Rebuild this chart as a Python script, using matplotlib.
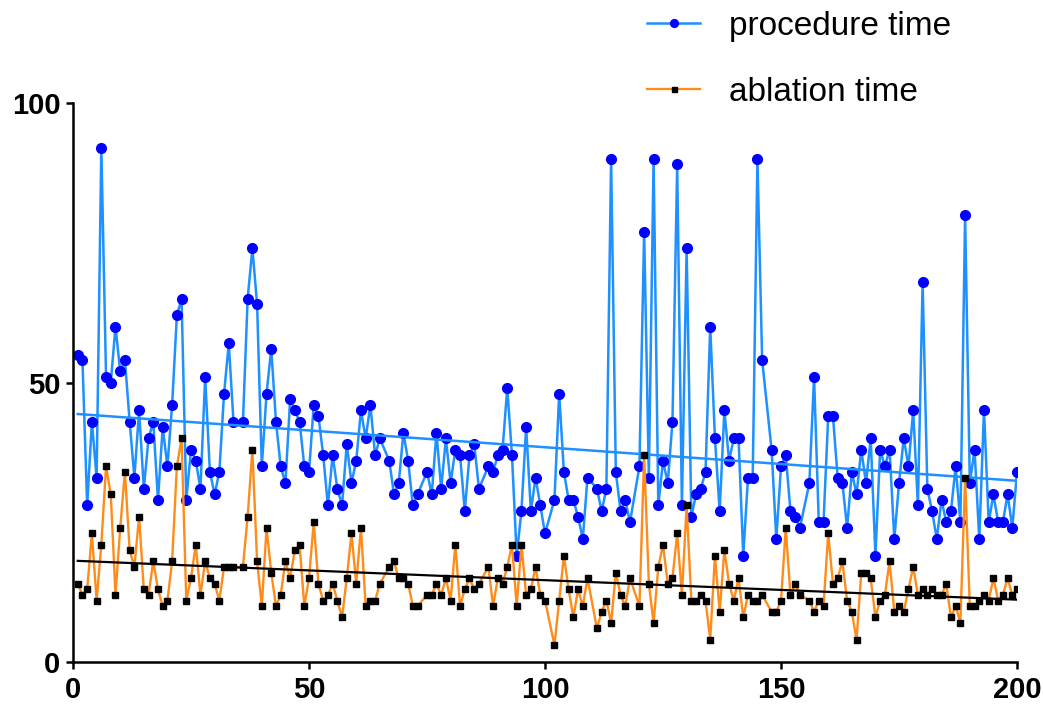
# Procedure time and ablation time per case, with linear trend lines

import numpy as np
import matplotlib.pyplot as plt

plt.rcParams['font.family'] = ['Liberation Sans', 'DejaVu Sans']

# case numbers (a few numbers are absent in the series)
missing = [35, 66, 74, 87, 101, 110, 119, 147, 155]
case = [i for i in range(1, 201) if i not in missing]

# procedure time per case
procedure = [
    55, 54, 28, 43, 33, 92, 51, 50, 60, 52, 54, 43, 33, 45, 31, 40, 43, 29, 42, 35,
    46, 62, 65, 29, 38, 36, 31, 51, 34, 30, 34, 48, 57,
    43, 43, 65, 74, 64, 35, 48, 56, 43, 35, 32, 47, 45, 43, 35, 34, 46, 44, 37, 28,
    37, 31, 28, 39, 32, 36, 45, 40, 46, 37, 40, 36,
    30, 32, 41, 36, 28, 30, 34, 30, 41, 31, 40, 32, 38, 37, 27, 37, 39, 31,
    35, 34, 37, 38, 49, 37, 19, 27, 42, 27, 33, 28, 23,
    29, 48, 34, 29, 29, 26, 22, 33, 31, 27, 31, 90, 34, 27, 29, 25,
    35, 77, 33, 90, 28, 36, 32, 43, 89, 28, 74, 26, 30, 31, 34, 60,
    40, 27, 45, 36, 40, 40, 19, 33, 33, 90, 54, 38, 22, 35, 37, 27, 26, 24,
    32, 51, 25, 25, 44, 44, 33, 32, 24, 34, 30,
    38, 32, 40, 19, 38, 35, 38, 22, 32, 40, 35, 45, 28, 68, 31, 27, 22, 29, 25, 27,
    35, 25, 80, 32, 38, 22, 45, 25, 30, 25, 25, 30, 24, 34,
]

# ablation time per case
ablation = [
    14, 12, 13, 23, 11, 21, 35, 30, 12, 24, 34, 20, 17, 26, 13, 12, 18, 13, 10, 11,
    18, 35, 40, 11, 15, 21, 12, 18, 15, 14, 11, 17, 17,
    17, 17, 26, 38, 18, 10, 24, 16, 10, 12, 18, 15, 20, 21, 10, 15, 25, 14, 11, 12,
    14, 11, 8, 15, 23, 14, 24, 10, 11, 11, 14, 17,
    18, 15, 15, 14, 10, 10, 12, 12, 14, 12, 15, 11, 21, 10, 13, 15, 13, 14,
    17, 10, 15, 14, 17, 21, 10, 21, 12, 13, 17, 12, 11,
    3, 11, 19, 13, 8, 13, 10, 15, 6, 9, 11, 7, 16, 12, 10, 15,
    10, 37, 14, 7, 17, 21, 14, 15, 23, 12, 28, 11, 11, 12, 11, 4,
    19, 9, 20, 14, 11, 15, 8, 12, 11, 11, 12, 9, 9, 11, 24, 12, 14, 12,
    11, 9, 11, 10, 23, 14, 15, 18, 11, 9, 4,
    16, 16, 15, 8, 11, 12, 18, 9, 10, 9, 13, 17, 12, 13, 12, 13, 12, 12, 14, 8,
    10, 7, 33, 10, 10, 11, 12, 11, 15, 11, 12, 15, 12, 13,
]

fig = plt.figure(figsize=(10.43, 7.06), dpi=100)
ax = fig.add_axes([0.070, 0.0623, 0.9051, 0.7918])

# linear trend lines
x = np.array(case)
fit_x = np.array([x.min(), x.max()])
p_proc = np.polyfit(x, procedure, 1)
p_abl = np.polyfit(x, ablation, 1)

line_proc, = ax.plot(case, procedure, color='#1E90FF', lw=1.8, marker='o', ms=7,
                     mfc='#0000FF', mec='#0000FF', label='procedure time', zorder=2)
ax.plot(fit_x, np.polyval(p_proc, fit_x), color='#1E90FF', lw=1.8, zorder=2)
line_abl, = ax.plot(case, ablation, color='#FF8C1A', lw=1.7, marker='s', ms=4.5,
                    mfc='black', mec='black', label='ablation time', zorder=3)
ax.plot(fit_x, np.polyval(p_abl, fit_x), color='black', lw=1.6, zorder=3)

ax.set_xlim(0, 200)
ax.set_ylim(0, 100)
ax.set_xticks([0, 50, 100, 150, 200])
ax.set_yticks([0, 50, 100])

for side in ['top', 'right']:
    ax.spines[side].set_visible(False)
for side in ['left', 'bottom']:
    ax.spines[side].set_linewidth(1.8)

ax.tick_params(axis='both', width=1.8, length=5, labelsize=21)
ax.tick_params(axis='x', pad=5)
ax.tick_params(axis='y', pad=4)
for lbl in ax.get_xticklabels() + ax.get_yticklabels():
    lbl.set_fontweight('bold')

fig.legend(handles=[line_proc, line_abl], loc='upper left', bbox_to_anchor=(0.614, 0.994),
           frameon=False, fontsize=24, handlelength=1.6, handletextpad=0.85,
           labelspacing=1.05, borderaxespad=0, borderpad=0.2, markerscale=0.8)

fig.savefig('out.png', dpi=100)
